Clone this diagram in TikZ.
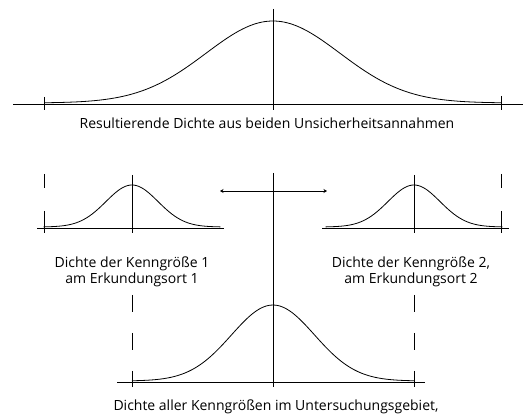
\documentclass[tikz,border=0pt]{standalone}
\usepackage{fontspec}
\setmainfont{Open Sans}
\usetikzlibrary{arrows.meta, positioning}
\tikzset{
  achse/.style={line width=0.8pt},
  kurve/.style={line width=0.8pt},
  strich/.style={line width=0.8pt, dash pattern=on 17pt off 21pt},
  beschriftung/.style={font=\fontsize{14}{16.5}\selectfont, inner sep=0pt, align=center, anchor=base},
}
% center, sigma, axis y, height
\newcommand{\glocke}[4]{%
  \draw[kurve] plot[domain=-3.4:3.4, samples=81, smooth] ({#1+#2*\x},{#3-1-#4*exp(-\x*\x/2)});
}

\begin{document}
\begin{tikzpicture}[x=1pt, y=-1pt]
\useasboundingbox (0,0) rectangle (523,414);
% --- resulting density ---
\draw[achse] (13,104) -- (523,104);
\draw[achse] (44,97) -- (44,110);
\draw[achse] (501,96) -- (501,110);
\draw[achse] (273,9) -- (273,110);
\glocke{273}{67}{104}{82}
\node[beschriftung] (resultierend) at (267,129) {Resultierende Dichte aus beiden Unsicherheitsannahmen};

% --- density at site 1 ---
\draw[achse] (37,228) -- (224,228);
\draw[achse] (44,211) -- (44,233);
\draw[achse] (132,175) -- (132,233);
\draw[strich, dash pattern=on 14pt off 40pt] (44,174) -- (44,200);
\glocke{132}{26}{228}{42}
\node[beschriftung] (ort1) at (132,284) {Dichte der Kenngröße 1\\am Erkundungsort 1};

% --- density at site 2 ---
\draw[achse] (322,228) -- (509,228);
\draw[achse] (501,211) -- (501,233);
\draw[achse] (414,175) -- (414,233);
\draw[strich, dash pattern=on 14pt off 40pt] (501,174) -- (501,200);
\glocke{414}{26}{228}{42}
\node[beschriftung] (ort2) at (411,284) {Dichte der Kenngröße 2,\\am Erkundungsort 2};

% --- shift arrow ---
\coordinate (pfeillinks) at (220,191);
\coordinate (pfeilrechts) at (327,191);
\draw[achse, {Stealth[length=3.5pt, width=4pt]}-{Stealth[length=3.5pt, width=4pt]}] (pfeillinks) -- (pfeilrechts);

% --- density of the whole area ---
\draw[achse] (117,382) -- (425,382);
\draw[achse] (273,173) -- (273,387);
\draw[strich] (132,295) -- (132,387);
\draw[strich] (414,295) -- (414,387);
\glocke{273}{41.5}{382}{76}
\node[beschriftung] (gebiet) at (276,411) {Dichte aller Kenngrößen im Untersuchungsgebiet,};
\end{tikzpicture}
\end{document}
